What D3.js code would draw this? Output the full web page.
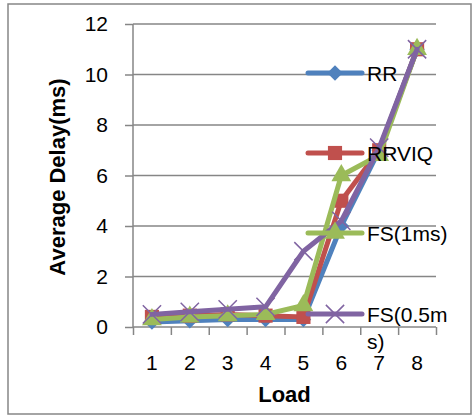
<!DOCTYPE html>
<html>
<head>
<meta charset="utf-8">
<script src="https://cdn.jsdelivr.net/npm/d3@7"></script>
<style>
  body { margin: 0; background: #fff; }
  text { font-family: "Liberation Sans", Arial, sans-serif; fill: #000; }
  .axis path, .axis line { stroke: #868686; stroke-width: 1.5; }
  .grid line { stroke: #868686; stroke-width: 1.5; }
</style>
</head>
<body>
<svg id="chart" width="473" height="416"></svg>
<script>
// Chart data
const loads = [1, 2, 3, 4, 5, 6, 7, 8];
const seriesNames = ['RR', 'RRVIQ', 'FS(1ms)', 'FS(0.5ms)'];
const rr = [0.2, 0.25, 0.3, 0.3, 0.3, 4.0, 7.0, 11];
const rrviq = [0.4, 0.45, 0.5, 0.45, 0.4, 5.0, 7.0, 11];
const fs1 = [0.3, 0.4, 0.45, 0.5, 0.85, 6.0, 6.8, 11];
const fs05 = [0.5, 0.6, 0.7, 0.8, 3.0, 4.2, 7.1, 11];
const yTicks = [0, 2, 4, 6, 8, 10, 12];

const colors = ['#4F81BD', '#C0504D', '#9BBB59', '#8064A2'];
const seriesValues = [rr, rrviq, fs1, fs05];

const plot = { left: 133, right: 436, top: 24, bottom: 327 };

const svg = d3.select('#chart');

// Outer frame
svg.append('rect')
    .attr('x', 8).attr('y', 4)
    .attr('width', 463).attr('height', 410)
    .attr('fill', 'none')
    .attr('stroke', '#868686')
    .attr('stroke-width', 1.5);

const x = d3.scaleBand()
    .domain(loads)
    .range([plot.left, plot.right])
    .padding(0);

const xEdge = d3.scaleLinear()
    .domain([0, loads.length])
    .range([plot.left, plot.right]);

const y = d3.scaleLinear()
    .domain([0, 12])
    .range([plot.bottom, plot.top]);

// Gridlines
svg.append('g')
    .attr('class', 'grid')
    .selectAll('line')
    .data(yTicks.filter(d => d > 0))
    .enter()
    .append('line')
    .attr('x1', plot.left)
    .attr('x2', plot.right)
    .attr('y1', d => y(d))
    .attr('y2', d => y(d));

// Y axis
const yAxis = svg.append('g')
    .attr('class', 'axis')
    .attr('transform', `translate(${plot.left},0)`)
    .call(d3.axisLeft(y).tickValues(yTicks).tickSize(8).tickPadding(17));
yAxis.select('.domain').attr('d', `M0,${plot.top}V${plot.bottom}`);
yAxis.selectAll('text').attr('font-size', 21).style('font-family', '"Liberation Sans", Arial, sans-serif');

// X axis: ticks at category boundaries
const xAxis = svg.append('g')
    .attr('class', 'axis')
    .attr('transform', `translate(0,${plot.bottom})`)
    .call(d3.axisBottom(xEdge).tickValues(d3.range(0, loads.length + 1)).tickSize(8).tickFormat(''));
xAxis.select('.domain').attr('d', `M${plot.left},0H${plot.right}`);

// X labels at category centres
const xLabels = svg.append('g')
    .attr('transform', `translate(0,${plot.bottom})`)
    .call(d3.axisBottom(x).tickSize(0).tickPadding(28));
xLabels.select('.domain').remove();
xLabels.selectAll('text').attr('font-size', 21).style('font-family', '"Liberation Sans", Arial, sans-serif');

// Axis titles
svg.append('text')
    .attr('transform', `translate(65,${(75 + 279) / 2}) rotate(-90)`)
    .attr('text-anchor', 'middle')
    .attr('font-size', 22)
    .attr('font-weight', 'bold')
    .text('Average Delay(ms)');

svg.append('text')
    .attr('x', (plot.left + plot.right) / 2)
    .attr('y', 402)
    .attr('text-anchor', 'middle')
    .attr('font-size', 22)
    .attr('font-weight', 'bold')
    .text('Load');

// Marker shapes
const markers = [
  { type: d3.symbolSquare, size: 120, rotate: 45, fill: true },
  { type: d3.symbolSquare, size: 200, rotate: 0, fill: true },
  { type: d3.symbolTriangle, size: 170, rotate: 0, fill: true },
  { type: d3.symbolTimes, size: 220, rotate: 0, fill: false }
];

function drawMarker(g, i, cx, cy) {
  const m = markers[i];
  g.append('path')
      .attr('d', d3.symbol().type(m.type).size(m.size)())
      .attr('transform', `translate(${cx},${cy}) rotate(${m.rotate})`)
      .attr('fill', m.fill ? colors[i] : 'none')
      .attr('stroke', colors[i])
      .attr('stroke-width', m.fill ? 0 : 1.5);
}

const line = d3.line()
    .x((d, i) => x(loads[i]) + x.bandwidth() / 2)
    .y(d => y(d));

// Series
seriesValues.forEach((vals, i) => {
  const g = svg.append('g');
  g.append('path')
      .attr('d', line(vals))
      .attr('fill', 'none')
      .attr('stroke', colors[i])
      .attr('stroke-width', 5)
      .attr('stroke-linejoin', 'round')
      .attr('stroke-linecap', 'round');
  vals.forEach((v, j) => drawMarker(g, i, x(loads[j]) + x.bandwidth() / 2, y(v)));
});

// Legend
const legendY = [73, 153, 233, 314];
seriesNames.forEach((name, i) => {
  const g = svg.append('g').attr('transform', `translate(0,${legendY[i]})`);
  g.append('line')
      .attr('x1', 308).attr('x2', 362)
      .attr('y1', 0).attr('y2', 0)
      .attr('stroke', colors[i])
      .attr('stroke-width', 5)
      .attr('stroke-linecap', 'round');
  drawMarker(g, i, 335, 0);
  const t = g.append('text')
      .attr('x', 367)
      .attr('y', 8)
      .attr('font-size', 21);
  if (name === 'FS(0.5ms)') {
    t.append('tspan').attr('x', 367).text('FS(0.5m');
    t.append('tspan').attr('x', 367).attr('dy', 27).text('s)');
  } else {
    t.text(name);
  }
});
</script>
</body>
</html>
